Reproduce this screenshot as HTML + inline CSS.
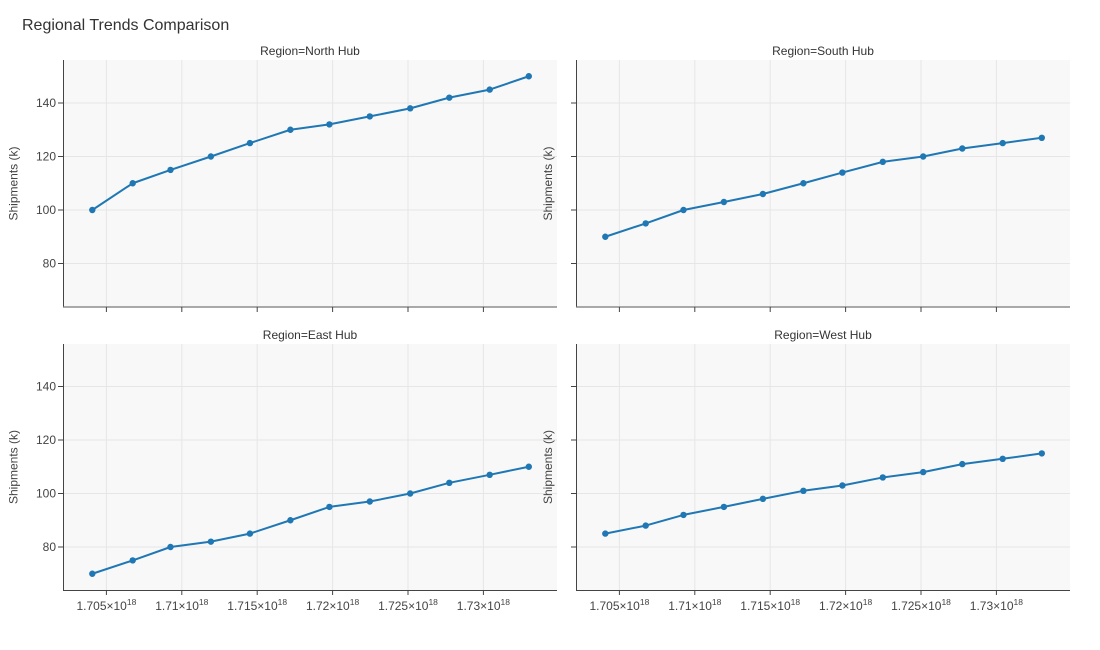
<!DOCTYPE html>
<html><head><meta charset="utf-8"><style>
html,body{margin:0;padding:0;background:#fff;}
svg{display:block;font-family:"Liberation Sans",Arial,sans-serif;}
</style></head><body>
<svg width="1100" height="650" viewBox="0 0 1100 650" xmlns="http://www.w3.org/2000/svg">
<rect width="1100" height="650" fill="#fff"/>
<text x="22" y="30" font-size="16" fill="#333">Regional Trends Comparison</text>

<!-- panel backgrounds -->
<rect x="63" y="60" width="494" height="247" fill="#f8f8f8"/>
<rect x="576" y="60" width="494" height="247" fill="#f8f8f8"/>
<rect x="63" y="344" width="494" height="246" fill="#f8f8f8"/>
<rect x="576" y="344" width="494" height="246" fill="#f8f8f8"/>

<!-- grids -->
<g stroke="#e6e6e6" stroke-width="1">
  <!-- top-left -->
  <line x1="106.4" y1="60" x2="106.4" y2="307"/><line x1="181.8" y1="60" x2="181.8" y2="307"/><line x1="257.2" y1="60" x2="257.2" y2="307"/><line x1="332.6" y1="60" x2="332.6" y2="307"/><line x1="408" y1="60" x2="408" y2="307"/><line x1="483.4" y1="60" x2="483.4" y2="307"/>
  <line x1="63" y1="103" x2="557" y2="103"/><line x1="63" y1="156.5" x2="557" y2="156.5"/><line x1="63" y1="210" x2="557" y2="210"/><line x1="63" y1="263.5" x2="557" y2="263.5"/>
  <!-- top-right -->
  <line x1="619.4" y1="60" x2="619.4" y2="307"/><line x1="694.8" y1="60" x2="694.8" y2="307"/><line x1="770.2" y1="60" x2="770.2" y2="307"/><line x1="845.6" y1="60" x2="845.6" y2="307"/><line x1="921" y1="60" x2="921" y2="307"/><line x1="996.4" y1="60" x2="996.4" y2="307"/>
  <line x1="576" y1="103" x2="1070" y2="103"/><line x1="576" y1="156.5" x2="1070" y2="156.5"/><line x1="576" y1="210" x2="1070" y2="210"/><line x1="576" y1="263.5" x2="1070" y2="263.5"/>
  <!-- bottom-left -->
  <line x1="106.4" y1="344" x2="106.4" y2="590"/><line x1="181.8" y1="344" x2="181.8" y2="590"/><line x1="257.2" y1="344" x2="257.2" y2="590"/><line x1="332.6" y1="344" x2="332.6" y2="590"/><line x1="408" y1="344" x2="408" y2="590"/><line x1="483.4" y1="344" x2="483.4" y2="590"/>
  <line x1="63" y1="386.5" x2="557" y2="386.5"/><line x1="63" y1="440" x2="557" y2="440"/><line x1="63" y1="493.5" x2="557" y2="493.5"/><line x1="63" y1="547" x2="557" y2="547"/>
  <!-- bottom-right -->
  <line x1="619.4" y1="344" x2="619.4" y2="590"/><line x1="694.8" y1="344" x2="694.8" y2="590"/><line x1="770.2" y1="344" x2="770.2" y2="590"/><line x1="845.6" y1="344" x2="845.6" y2="590"/><line x1="921" y1="344" x2="921" y2="590"/><line x1="996.4" y1="344" x2="996.4" y2="590"/>
  <line x1="576" y1="386.5" x2="1070" y2="386.5"/><line x1="576" y1="440" x2="1070" y2="440"/><line x1="576" y1="493.5" x2="1070" y2="493.5"/><line x1="576" y1="547" x2="1070" y2="547"/>
</g>

<!-- axes lines -->
<g stroke="#444" stroke-width="1" fill="none">
  <line x1="63.5" y1="60" x2="63.5" y2="307.5"/>
  <line x1="576.5" y1="60" x2="576.5" y2="307.5"/>
  <line x1="63.5" y1="344" x2="63.5" y2="590.5"/>
  <line x1="576.5" y1="344" x2="576.5" y2="590.5"/>
  <line x1="63" y1="590.5" x2="557" y2="590.5"/>
  <line x1="576" y1="590.5" x2="1070" y2="590.5"/>
</g>
<g stroke="#777" stroke-width="1.3" fill="none">
  <line x1="63" y1="307" x2="557" y2="307"/>
  <line x1="576" y1="307" x2="1070" y2="307"/>
</g>

<!-- y ticks -->
<g stroke="#444" stroke-width="1">
  <line x1="58" y1="103" x2="63" y2="103"/><line x1="58" y1="156.5" x2="63" y2="156.5"/><line x1="58" y1="210" x2="63" y2="210"/><line x1="58" y1="263.5" x2="63" y2="263.5"/>
  <line x1="571" y1="103" x2="576" y2="103"/><line x1="571" y1="156.5" x2="576" y2="156.5"/><line x1="571" y1="210" x2="576" y2="210"/><line x1="571" y1="263.5" x2="576" y2="263.5"/>
  <line x1="58" y1="386.5" x2="63" y2="386.5"/><line x1="58" y1="440" x2="63" y2="440"/><line x1="58" y1="493.5" x2="63" y2="493.5"/><line x1="58" y1="547" x2="63" y2="547"/>
  <line x1="571" y1="386.5" x2="576" y2="386.5"/><line x1="571" y1="440" x2="576" y2="440"/><line x1="571" y1="493.5" x2="576" y2="493.5"/><line x1="571" y1="547" x2="576" y2="547"/>
</g>
<!-- x ticks -->
<g stroke="#444" stroke-width="1">
  <line x1="106.4" y1="307" x2="106.4" y2="312"/><line x1="181.8" y1="307" x2="181.8" y2="312"/><line x1="257.2" y1="307" x2="257.2" y2="312"/><line x1="332.6" y1="307" x2="332.6" y2="312"/><line x1="408" y1="307" x2="408" y2="312"/><line x1="483.4" y1="307" x2="483.4" y2="312"/>
  <line x1="619.4" y1="307" x2="619.4" y2="312"/><line x1="694.8" y1="307" x2="694.8" y2="312"/><line x1="770.2" y1="307" x2="770.2" y2="312"/><line x1="845.6" y1="307" x2="845.6" y2="312"/><line x1="921" y1="307" x2="921" y2="312"/><line x1="996.4" y1="307" x2="996.4" y2="312"/>
  <line x1="106.4" y1="590" x2="106.4" y2="595"/><line x1="181.8" y1="590" x2="181.8" y2="595"/><line x1="257.2" y1="590" x2="257.2" y2="595"/><line x1="332.6" y1="590" x2="332.6" y2="595"/><line x1="408" y1="590" x2="408" y2="595"/><line x1="483.4" y1="590" x2="483.4" y2="595"/>
  <line x1="619.4" y1="590" x2="619.4" y2="595"/><line x1="694.8" y1="590" x2="694.8" y2="595"/><line x1="770.2" y1="590" x2="770.2" y2="595"/><line x1="845.6" y1="590" x2="845.6" y2="595"/><line x1="921" y1="590" x2="921" y2="595"/><line x1="996.4" y1="590" x2="996.4" y2="595"/>
</g>

<!-- y tick labels -->
<g font-size="12" fill="#444" text-anchor="end">
  <text x="56" y="107">140</text><text x="56" y="160.5">120</text><text x="56" y="214">100</text><text x="56" y="267.5">80</text>
  <text x="56" y="390.5">140</text><text x="56" y="444">120</text><text x="56" y="497.5">100</text><text x="56" y="551">80</text>
</g>

<!-- x tick labels -->
<g font-size="12" fill="#444" text-anchor="middle">
  <text x="106.4" y="610">1.705×10<tspan dy="-5" font-size="8.5">18</tspan></text>
  <text x="181.8" y="610">1.71×10<tspan dy="-5" font-size="8.5">18</tspan></text>
  <text x="257.2" y="610">1.715×10<tspan dy="-5" font-size="8.5">18</tspan></text>
  <text x="332.6" y="610">1.72×10<tspan dy="-5" font-size="8.5">18</tspan></text>
  <text x="408" y="610">1.725×10<tspan dy="-5" font-size="8.5">18</tspan></text>
  <text x="483.4" y="610">1.73×10<tspan dy="-5" font-size="8.5">18</tspan></text>
  <text x="619.4" y="610">1.705×10<tspan dy="-5" font-size="8.5">18</tspan></text>
  <text x="694.8" y="610">1.71×10<tspan dy="-5" font-size="8.5">18</tspan></text>
  <text x="770.2" y="610">1.715×10<tspan dy="-5" font-size="8.5">18</tspan></text>
  <text x="845.6" y="610">1.72×10<tspan dy="-5" font-size="8.5">18</tspan></text>
  <text x="921" y="610">1.725×10<tspan dy="-5" font-size="8.5">18</tspan></text>
  <text x="996.4" y="610">1.73×10<tspan dy="-5" font-size="8.5">18</tspan></text>
</g>

<!-- subplot titles -->
<g font-size="12" fill="#333" text-anchor="middle">
  <text x="310" y="55">Region=North Hub</text>
  <text x="823" y="55">Region=South Hub</text>
  <text x="310" y="339">Region=East Hub</text>
  <text x="823" y="339">Region=West Hub</text>
</g>

<!-- y axis titles -->
<g font-size="12" fill="#444" text-anchor="middle">
  <text transform="translate(17.5,183.5) rotate(-90)">Shipments (k)</text>
  <text transform="translate(552,183.5) rotate(-90)">Shipments (k)</text>
  <text transform="translate(17.5,467) rotate(-90)">Shipments (k)</text>
  <text transform="translate(552,467) rotate(-90)">Shipments (k)</text>
</g>

<!-- series -->
<g fill="none" stroke="#1f77b4" stroke-width="2" stroke-linejoin="round">
  <polyline points="92.3,210 132.7,183.25 170.5,169.9 210.9,156.5 249.9,143.1 290.4,129.75 329.4,124.4 369.8,116.4 410.2,108.35 449.3,97.65 489.7,89.6 528.8,76.25"/>
  <polyline points="605.3,236.75 645.7,223.4 683.5,210 723.9,202 762.9,194 803.4,183.25 842.4,172.55 882.8,161.85 923.2,156.5 962.3,148.5 1002.7,143.1 1041.8,137.8"/>
  <polyline points="92.3,573.75 132.7,560.4 170.5,547 210.9,541.65 249.9,533.6 290.4,520.25 329.4,506.9 369.8,501.5 410.2,493.5 449.3,482.8 489.7,474.8 528.8,466.75"/>
  <polyline points="605.3,533.6 645.7,525.6 683.5,514.9 723.9,506.9 762.9,498.85 803.4,490.8 842.4,485.5 882.8,477.45 923.2,472.1 962.3,464.1 1002.7,458.8 1041.8,453.4"/>
</g>
<g fill="#1f77b4">
  <circle cx="92.3" cy="210" r="3.2"/><circle cx="132.7" cy="183.25" r="3.2"/><circle cx="170.5" cy="169.9" r="3.2"/><circle cx="210.9" cy="156.5" r="3.2"/><circle cx="249.9" cy="143.1" r="3.2"/><circle cx="290.4" cy="129.75" r="3.2"/><circle cx="329.4" cy="124.4" r="3.2"/><circle cx="369.8" cy="116.4" r="3.2"/><circle cx="410.2" cy="108.35" r="3.2"/><circle cx="449.3" cy="97.65" r="3.2"/><circle cx="489.7" cy="89.6" r="3.2"/><circle cx="528.8" cy="76.25" r="3.2"/>
  <circle cx="605.3" cy="236.75" r="3.2"/><circle cx="645.7" cy="223.4" r="3.2"/><circle cx="683.5" cy="210" r="3.2"/><circle cx="723.9" cy="202" r="3.2"/><circle cx="762.9" cy="194" r="3.2"/><circle cx="803.4" cy="183.25" r="3.2"/><circle cx="842.4" cy="172.55" r="3.2"/><circle cx="882.8" cy="161.85" r="3.2"/><circle cx="923.2" cy="156.5" r="3.2"/><circle cx="962.3" cy="148.5" r="3.2"/><circle cx="1002.7" cy="143.1" r="3.2"/><circle cx="1041.8" cy="137.8" r="3.2"/>
  <circle cx="92.3" cy="573.75" r="3.2"/><circle cx="132.7" cy="560.4" r="3.2"/><circle cx="170.5" cy="547" r="3.2"/><circle cx="210.9" cy="541.65" r="3.2"/><circle cx="249.9" cy="533.6" r="3.2"/><circle cx="290.4" cy="520.25" r="3.2"/><circle cx="329.4" cy="506.9" r="3.2"/><circle cx="369.8" cy="501.5" r="3.2"/><circle cx="410.2" cy="493.5" r="3.2"/><circle cx="449.3" cy="482.8" r="3.2"/><circle cx="489.7" cy="474.8" r="3.2"/><circle cx="528.8" cy="466.75" r="3.2"/>
  <circle cx="605.3" cy="533.6" r="3.2"/><circle cx="645.7" cy="525.6" r="3.2"/><circle cx="683.5" cy="514.9" r="3.2"/><circle cx="723.9" cy="506.9" r="3.2"/><circle cx="762.9" cy="498.85" r="3.2"/><circle cx="803.4" cy="490.8" r="3.2"/><circle cx="842.4" cy="485.5" r="3.2"/><circle cx="882.8" cy="477.45" r="3.2"/><circle cx="923.2" cy="472.1" r="3.2"/><circle cx="962.3" cy="464.1" r="3.2"/><circle cx="1002.7" cy="458.8" r="3.2"/><circle cx="1041.8" cy="453.4" r="3.2"/>
</g>
</svg>
</body></html>
